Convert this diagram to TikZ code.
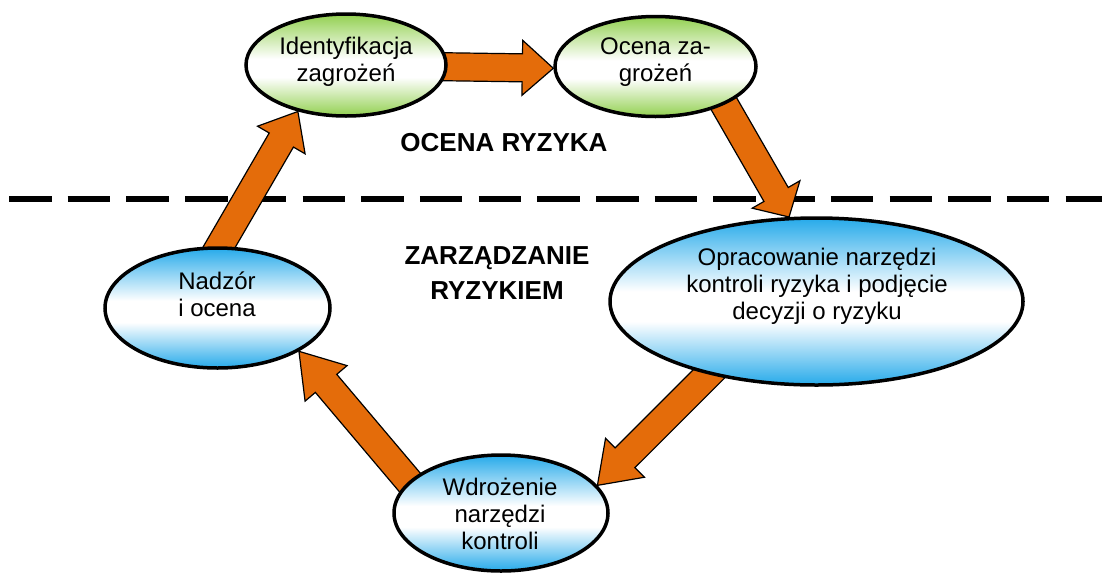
\documentclass[tikz,border=0pt]{standalone}
\usepackage{fontspec}
\setmainfont{Liberation Sans}
\usetikzlibrary{shapes.geometric,calc,backgrounds}
\definecolor{grn}{RGB}{146,208,80}
\definecolor{blu}{RGB}{38,170,234}
\definecolor{orng}{RGB}{228,108,10}
\pgfdeclareverticalshading{grnshade}{100bp}{color(0bp)=(grn); color(25bp)=(grn); color(44bp)=(white); color(53bp)=(white); color(75bp)=(grn); color(100bp)=(grn)}
\pgfdeclareverticalshading{blushade}{100bp}{color(0bp)=(blu); color(25bp)=(blu); color(44bp)=(white); color(53bp)=(white); color(75bp)=(blu); color(100bp)=(blu)}
\tikzset{
  ell/.style={ellipse, draw=black, line width=3.5pt, inner sep=0pt},
  gell/.style={ell, shade, shading=grnshade},
  bell/.style={ell, shade, shading=blushade},
  lbl/.style={align=center, font=\fontsize{24}{27}\selectfont, inner sep=0pt},
  hdr/.style={align=center, font=\bfseries\fontsize{26}{35}\selectfont, inner sep=0pt},
  barrow/.style={fill=orng, draw=black, line width=1.2pt, line join=miter},
  sepline/.style={line width=5.5pt, dash pattern=on 42.5pt off 16.2pt},
}
% block arrow: #1 from, #2 to, #3 head length
\newcommand\blockarrow[3]{%
  \path ($(#2)!#3!(#1)$) coordinate (bah) ($(#1)!-25pt!(#2)$) coordinate (bat);
  \draw[barrow] ($(bat)!14pt!90:(#2)$) -- ($(bah)!14pt!90:(#2)$) -- ($(bah)!27.5pt!90:(#2)$) -- (#2)
    -- ($(bah)!27.5pt!-90:(#2)$) -- ($(bah)!14pt!-90:(#2)$) -- ($(bat)!14pt!-90:(#2)$) -- cycle;
}
\begin{document}
\begin{tikzpicture}[x=1pt,y=-1pt]
\useasboundingbox (0,0) rectangle (1102,574);
% ellipses
\node[gell, minimum width=200pt, minimum height=102pt] (e1) at (346,65) {};
\node[gell, minimum width=201pt, minimum height=100pt] (e2) at (655.5,66.5) {};
\node[bell, minimum width=413pt, minimum height=167pt] (e3) at (816.5,301.5) {};
\node[bell, minimum width=225pt, minimum height=120pt] (e4) at (217.5,308) {};
\node[bell, minimum width=214pt, minimum height=116pt] (e5) at (501,513) {};
% texts
\node[lbl] (t1) at (346,62) {Identyfikacja\\zagrożeń};
\node[lbl] (t2) at (655.5,62) {Ocena za-\\grożeń};
\node[lbl] (t3) at (817,286.5) {Opracowanie narzędzi\\kontroli ryzyka i podjęcie\\decyzji o ryzyku};
\node[lbl] (t4) at (217,294.5) {Nadzór\\i ocena};
\node[lbl] (t5) at (500,514) {Wdrożenie\\narzędzi\\kontroli};
\node[hdr] (h1) at (504,142.7) {OCENA RYZYKA};
\node[hdr] (h2) at (497,273) {ZARZĄDZANIE\\RYZYKIEM};
\coordinate (dl) at (9,199);
\coordinate (dr) at (1102,199);
\begin{pgfonlayer}{background}
\draw[sepline] (dl) -- (dr);
\blockarrow{e1.359}{e2.181}{31pt}
\blockarrow{e2.331}{e3.108}{26pt}
\blockarrow{e3.214}{e5.16}{39pt}
\blockarrow{e5.161}{e4.332}{42pt}
\blockarrow{e4.88}{e1.224}{33pt}
\end{pgfonlayer}
\end{tikzpicture}
\end{document}
